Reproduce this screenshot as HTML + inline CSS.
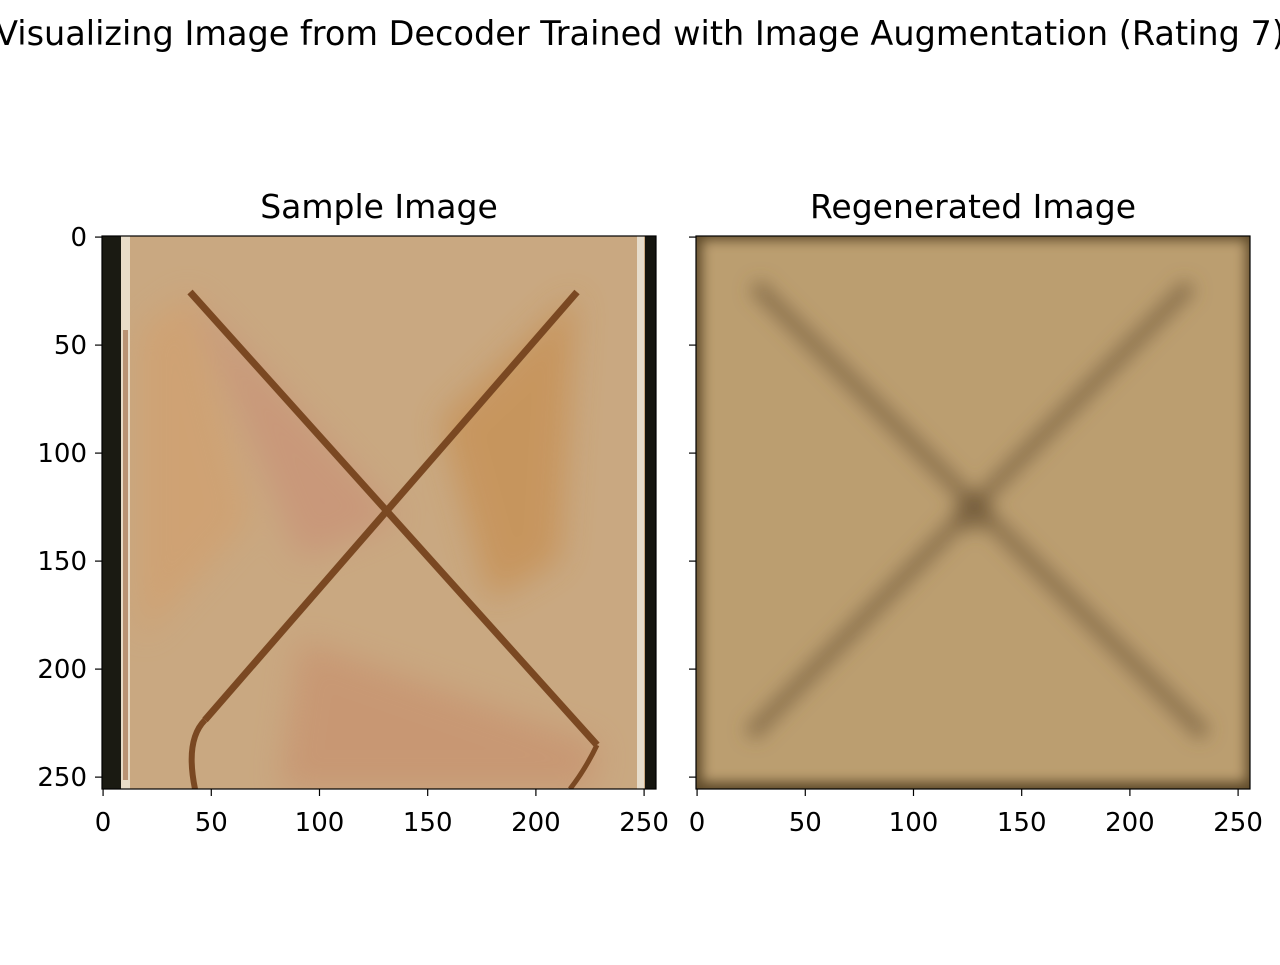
<!DOCTYPE html>
<html><head><meta charset="utf-8"><style>
body{margin:0;background:#fff;font-family:"Liberation Sans","DejaVu Sans",sans-serif}
svg text{font-family:"DejaVu Sans","Liberation Sans",sans-serif;fill:#000}
</style></head><body>
<svg width="1280" height="960" viewBox="0 0 1280 960">
<defs>
<filter id="blur6"><feGaussianBlur stdDeviation="9"/></filter>
<filter id="blur14"><feGaussianBlur stdDeviation="16"/></filter>
<filter id="edge"><feGaussianBlur stdDeviation="6"/></filter>
<clipPath id="c1"><rect x="102" y="236" width="554" height="553"/></clipPath>
<clipPath id="c2"><rect x="696" y="236" width="554" height="553"/></clipPath>
</defs>
<text x="640" y="45" font-size="33.5" text-anchor="middle">Visualizing Image from Decoder Trained with Image Augmentation (Rating 7)</text>
<text x="379" y="218" font-size="33" text-anchor="middle">Sample Image</text>
<text x="973" y="218" font-size="33" text-anchor="middle">Regenerated Image</text>

<g clip-path="url(#c1)">
<rect x="102" y="236" width="554" height="553" fill="#c8a67c"/>
<rect x="130" y="236" width="515" height="553" fill="#c9a881"/>
<g filter="url(#blur14)" opacity="0.4">
<polygon points="190,292 250,520 140,640 140,330" fill="#d89a60"/>
<polygon points="577,292 560,560 490,600 440,420" fill="#c47a2a"/>
<polygon points="300,640 600,745 590,789 280,789" fill="#c88060"/>
<polygon points="190,292 400,520 300,560" fill="#c98070"/>
</g>
<rect x="102" y="236" width="19" height="553" fill="#1a1a12"/>
<rect x="121" y="236" width="9" height="553" fill="#e8dcc8"/>
<rect x="123" y="330" width="5" height="450" fill="#8a4a20" opacity="0.5"/>
<rect x="645" y="236" width="11" height="553" fill="#15150f"/>
<rect x="637" y="236" width="7" height="553" fill="#e6dccb"/>
<line x1="190" y1="292" x2="597" y2="745" stroke="#7a4822" stroke-width="7"/>
<line x1="577" y1="292" x2="205" y2="720" stroke="#7a4822" stroke-width="7"/>
<path d="M205,720 Q185,740 195,789" stroke="#7a4822" stroke-width="6" fill="none"/>
<path d="M597,745 Q585,770 570,789" stroke="#7a4822" stroke-width="5" fill="none"/>
</g>
<rect x="102" y="236" width="554" height="553" fill="none" stroke="#000" stroke-width="1.2"/>

<g clip-path="url(#c2)">
<rect x="696" y="236" width="554" height="553" fill="#5e4a2a"/>
<rect x="702" y="240" width="544" height="542" fill="#bb9e70" filter="url(#edge)"/>
<g filter="url(#blur6)">
<line x1="755" y1="285" x2="1205" y2="735" stroke="#7a6240" stroke-width="16" opacity="0.75"/>
<line x1="1190" y1="285" x2="750" y2="735" stroke="#7a6240" stroke-width="16" opacity="0.75"/>
<circle cx="973" cy="512" r="20" fill="#6a5434" opacity="0.5"/>
</g>
</g>
<rect x="696" y="236" width="554" height="553" fill="none" stroke="#000" stroke-width="1.2"/>

<g id="axes"></g>
</svg>
<script>
const xTickVals=[0,50,100,150,200,250];
const yTickVals=[0,50,100,150,200,250];
const xLabels=["0","50","100","150","200","250"];
const yLabels=["0","50","100","150","200","250"];
const NS="http://www.w3.org/2000/svg";
const g=document.getElementById('axes');
function sx(v,left){return left+(v+0.5)*554/256;}
function sy(v){return 236+(v+0.5)*553/256;}
function mk(t,a){const e=document.createElementNS(NS,t);for(const k in a)e.setAttribute(k,a[k]);g.appendChild(e);return e;}
[102,696].forEach((left,pi)=>{
 xTickVals.forEach((v,i)=>{
  const x=sx(v,left);
  const l=mk('line',{x1:x,y1:789,x2:x,y2:796,stroke:'#000','stroke-width':1.2});
  
  
  const t=mk('text',{x:x,y:831,'font-size':26,'text-anchor':'middle'});
  t.textContent=xLabels[i];
  
  
 });
 yTickVals.forEach((v,i)=>{
  const y=sy(v);
  const l=mk('line',{x1:left-7,y1:y,x2:left,y2:y,stroke:'#000','stroke-width':1.2});
  
  
  if(pi===0){
   const t=mk('text',{x:left-15,y:y+9,'font-size':26,'text-anchor':'end'});
   t.textContent=yLabels[i];
   
   
  }
 });
});
</script>
</body></html>
